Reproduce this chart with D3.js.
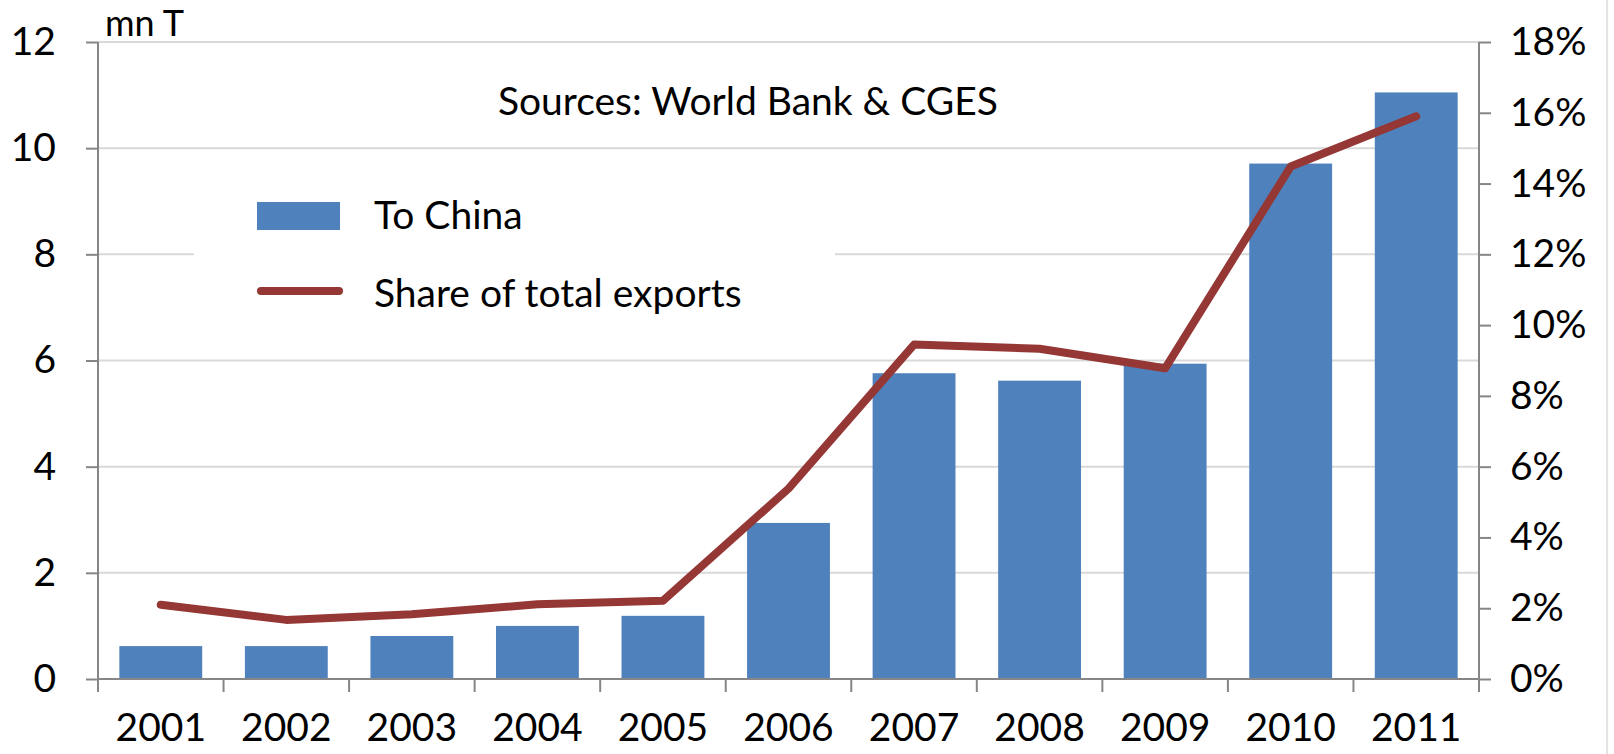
<!DOCTYPE html>
<html>
<head>
<meta charset="utf-8">
<script src="https://cdn.jsdelivr.net/npm/d3@7"></script>
<style>
  body { margin: 0; background: #fff; }
  text { font-family: Lato, "Open Sans", sans-serif; fill: #000; }
</style>
</head>
<body>
<script>
// data
var years = ["2001","2002","2003","2004","2005","2006","2007","2008","2009","2010","2011"];
var toChina = [0.62, 0.62, 0.81, 1.0, 1.19, 2.94, 5.76, 5.62, 5.94, 9.71, 11.05];
var shareOfTotal = [2.1, 1.67, 1.83, 2.11, 2.21, 5.38, 9.45, 9.33, 8.78, 14.48, 15.9];
var leftTicks = [0, 2, 4, 6, 8, 10, 12];
var rightTicks = [0, 2, 4, 6, 8, 10, 12, 14, 16, 18];

var W = 1614, H = 754;
var plotLeft = 98, plotRight = 1479, plotTop = 42, plotBottom = 679;
var fontSize = 39;

var svg = d3.select("body").append("svg")
    .attr("width", W)
    .attr("height", H);

var x = d3.scaleBand()
    .domain(years)
    .range([plotLeft, plotRight])
    .paddingInner(0.34)
    .paddingOuter(0.17);

var y = d3.scaleLinear().domain([0, 12]).range([plotBottom, plotTop]);
var y2 = d3.scaleLinear().domain([0, 18]).range([plotBottom, plotTop]);

// right frame line
svg.append("line")
    .attr("x1", 1607).attr("x2", 1607)
    .attr("y1", 0).attr("y2", H)
    .attr("stroke", "#e4e4e4").attr("stroke-width", 2);

// GRIGLIA
svg.append("g").selectAll("line")
    .data(leftTicks.slice(1))
    .join("line")
    .attr("x1", plotLeft).attr("x2", plotRight)
    .attr("y1", function(d) { return y(d); })
    .attr("y2", function(d) { return y(d); })
    .attr("stroke", "#d9d9d9")
    .attr("stroke-width", 2);

// BARRE
svg.append("g").selectAll("rect")
    .data(years)
    .join("rect")
    .attr("x", function(d) { return x(d); })
    .attr("y", function(d, i) { return y(toChina[i]); })
    .attr("width", x.bandwidth())
    .attr("height", function(d, i) { return plotBottom - y(toChina[i]); })
    .attr("fill", "#4f81bd");

// ASSE SINISTRO
var yAxis = d3.axisLeft(y).tickValues(leftTicks).tickSize(12).tickPadding(30);
var gy = svg.append("g").attr("transform", "translate(" + plotLeft + ",0)").call(yAxis);

// ASSE DESTRO
var y2Axis = d3.axisRight(y2).tickValues(rightTicks).tickSize(12).tickPadding(19)
    .tickFormat(function(d) { return d + "%"; });
var gy2 = svg.append("g").attr("transform", "translate(" + plotRight + ",0)").call(y2Axis);

[gy, gy2].forEach(function(g) {
    g.select(".domain").remove();
    g.selectAll(".tick line").attr("stroke", "#868686").attr("stroke-width", 2);
    g.selectAll(".tick text")
        .attr("font-size", fontSize + "px")
        .attr("font-family", "Lato, sans-serif")
        .attr("fill", "#000");
});

// vertical axis lines, extending below the baseline
svg.append("line")
    .attr("x1", plotLeft).attr("x2", plotLeft).attr("y1", plotTop).attr("y2", plotBottom + 13)
    .attr("stroke", "#868686").attr("stroke-width", 2);
svg.append("line")
    .attr("x1", plotRight).attr("x2", plotRight).attr("y1", plotTop).attr("y2", plotBottom + 13)
    .attr("stroke", "#868686").attr("stroke-width", 2);

// ASSE X
svg.append("line")
    .attr("x1", plotLeft).attr("x2", plotRight).attr("y1", plotBottom).attr("y2", plotBottom)
    .attr("stroke", "#868686").attr("stroke-width", 2);

var step = x.step();
svg.append("g").selectAll("line")
    .data(years.slice(1))
    .join("line")
    .attr("x1", function(d) { return x(d) - step * x.paddingInner() / 2; })
    .attr("x2", function(d) { return x(d) - step * x.paddingInner() / 2; })
    .attr("y1", plotBottom).attr("y2", plotBottom + 13)
    .attr("stroke", "#868686").attr("stroke-width", 2);

svg.append("g").selectAll("text")
    .data(years)
    .join("text")
    .attr("x", function(d) { return x(d) + x.bandwidth() / 2; })
    .attr("y", 727)
    .attr("dy", "0.35em")
    .attr("text-anchor", "middle")
    .attr("font-size", fontSize + "px")
    .text(function(d) { return d; });

// LINEA
var line = d3.line()
    .x(function(d, i) { return x(years[i]) + x.bandwidth() / 2; })
    .y(function(d) { return y2(d); });

svg.append("path")
    .datum(shareOfTotal)
    .attr("d", line)
    .attr("fill", "none")
    .attr("stroke", "#953735")
    .attr("stroke-width", 8)
    .attr("stroke-linejoin", "round")
    .attr("stroke-linecap", "round");

// UNITA'
svg.append("text")
    .attr("x", 105).attr("y", 36)
    .attr("font-size", "36px")
    .text("mn T");

// FONTE
svg.append("text")
    .attr("x", 748).attr("y", 101)
    .attr("dy", "0.35em")
    .attr("text-anchor", "middle")
    .attr("font-size", fontSize + "px")
    .text("Sources: World Bank & CGES");

// LEGENDA
var leg = svg.append("g");
leg.append("rect")
    .attr("x", 194).attr("y", 170).attr("width", 641).attr("height", 160)
    .attr("fill", "#fff");
leg.append("rect")
    .attr("x", 257).attr("y", 202).attr("width", 83).attr("height", 28)
    .attr("fill", "#4f81bd");
leg.append("text")
    .attr("x", 374).attr("y", 215).attr("dy", "0.35em")
    .attr("font-size", fontSize + "px")
    .text("To China");
leg.append("line")
    .attr("x1", 261).attr("x2", 339).attr("y1", 291).attr("y2", 291)
    .attr("stroke", "#953735").attr("stroke-width", 8)
    .attr("stroke-linecap", "round");
leg.append("text")
    .attr("x", 374).attr("y", 293).attr("dy", "0.35em")
    .attr("font-size", fontSize + "px")
    .text("Share of total exports");
</script>
</body>
</html>
